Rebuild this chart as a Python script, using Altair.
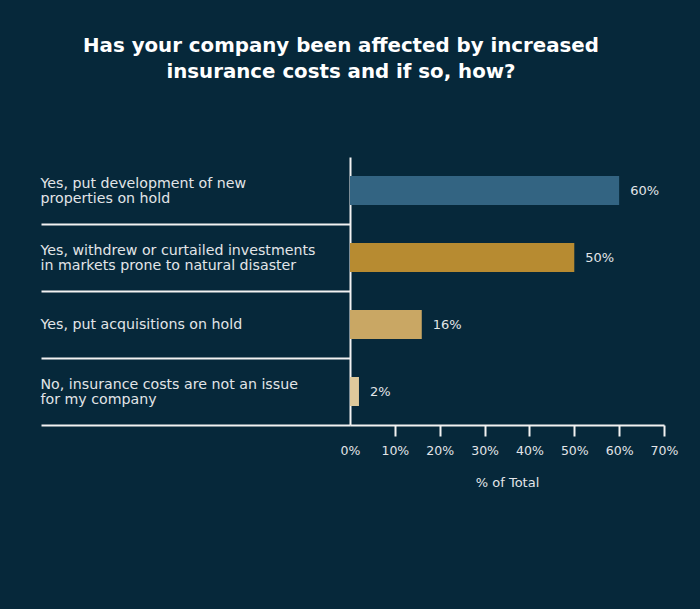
import json
import altair as alt
import pandas as pd

categories = [
    "Yes, put development of new properties on hold",
    "Yes, withdrew or curtailed investments in markets prone to natural disaster",
    "Yes, put acquisitions on hold",
    "No, insurance costs are not an issue for my company",
]
label_lines = [
    ["Yes, put development of new", "properties on hold"],
    ["Yes, withdrew or curtailed investments", "in markets prone to natural disaster"],
    ["Yes, put acquisitions on hold"],
    ["No, insurance costs are not an issue", "for my company"],
]
values = [60, 50, 16, 2]
value_labels = ["60%", "50%", "16%", "2%"]
bar_colors = ["#336482", "#b78b31", "#c9a764", "#dec99b"]
x_ticks = [0, 10, 20, 30, 40, 50, 60, 70]
title_lines = ["Has your company been affected by increased", "insurance costs and if so, how?"]
x_title = "% of Total"

BG = "#06283a"
TXT = "#e2e5e8"
LINE = "#f2f2f2"
FONT = "DejaVu Sans"
LINE_H = 15
BLANK = "\u200b"  # zero-width space: an invisible line that still advances


def half_step_lines(lines):
    # lines are laid out on a half-height grid so that every label block is
    # vertically centred on its band: blank rows sit between / before lines
    if len(lines) == 1:
        return [BLANK] + lines
    out = []
    for i, ln in enumerate(lines):
        if i:
            out.append(BLANK)
        out.append(ln)
    return out


label_map = "(" + json.dumps(
    {c: half_step_lines(l) for c, l in zip(categories, label_lines)}, ensure_ascii=False
) + ")"

df = pd.DataFrame({"category": categories, "value": values, "label": value_labels})

y_enc = alt.Y(
    "category:N",
    sort=categories,
    scale=alt.Scale(paddingInner=0, paddingOuter=0),
    axis=alt.Axis(
        title=None,
        tickBand="extent",
        tickSize=309,
        tickWidth=2,
        tickColor={"condition": {"test": "datum.index < 0", "value": "transparent"}, "value": LINE},
        domainColor=LINE,
        domainWidth=2,
        labelAlign="left",
        labelBaseline="middle",
        labelPadding=1,
        labelLimit=500,
        labelExpr=label_map + "[datum.label]",
        labelOffset=-LINE_H / 2,
        labelLineHeight=LINE_H / 2,
        labelFontSize=14.2,
        labelColor=TXT,
        labelFont=FONT,
    ),
)

x_enc = alt.X(
    "value:Q",
    scale=alt.Scale(domain=[0, 70], nice=False),
    axis=alt.Axis(
        values=x_ticks,
        labelExpr="datum.value + '%'",
        grid=False,
        tickSize=11,
        tickWidth=2,
        tickColor={"condition": {"test": "datum.value === 0", "value": "transparent"}, "value": LINE},
        domainColor=LINE,
        domainWidth=2,
        labelFlush=False,
        labelFontSize=12.5,
        labelColor=TXT,
        labelFont=FONT,
        labelPadding=8,
        title=x_title,
        titleFontSize=13,
        titleFontWeight="normal",
        titleColor=TXT,
        titleFont=FONT,
        titlePadding=20,
    ),
)

bars = alt.Chart(df).mark_bar(size=29).encode(
    y=y_enc,
    x=x_enc,
    color=alt.Color("category:N", scale=alt.Scale(domain=categories, range=bar_colors), legend=None),
)

text = alt.Chart(df).mark_text(align="left", baseline="middle", dx=11, fontSize=13, color=TXT, font=FONT).encode(
    y=alt.Y("category:N", sort=categories),
    x=alt.X("value:Q"),
    text="label:N",
)

chart = (
    alt.layer(bars, text)
    .properties(
        width=314,
        height=268,
        title=alt.TitleParams(
            text=title_lines,
            anchor="middle",
            frame="group",
            dx=-166,
            offset=68,
            fontSize=19.8,
            font=FONT,
            fontWeight="bold",
            color="#ffffff",
            lineHeight=26,
        ),
        padding={"left": 350, "top": 157, "right": 36, "bottom": 184},
        autosize="none",
        background=BG,
    )
    .configure_view(stroke=None)
)

chart.save("out.html", embed_options={"renderer": "svg", "actions": False})
